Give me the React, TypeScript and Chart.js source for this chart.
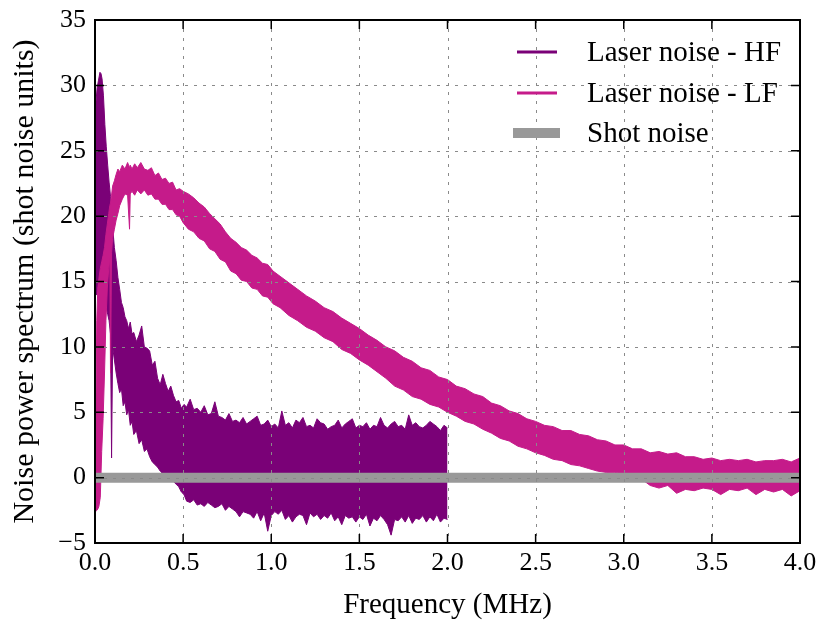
import React, { useEffect, useRef } from 'react';
import { Chart, registerables } from 'chart.js';

Chart.register(...registerables);

// ---- data ----
const hfFreq = [
  0.004, 0.012, 0.02, 0.028, 0.034, 0.04, 0.048, 0.056, 0.064, 0.072,
  0.08, 0.088, 0.094, 0.1, 0.11, 0.12, 0.13, 0.14, 0.15, 0.16,
  0.17, 0.18, 0.19, 0.2, 0.21, 0.22, 0.235, 0.25, 0.265, 0.28,
  0.295, 0.31, 0.325, 0.34, 0.355, 0.37, 0.385, 0.4, 0.415, 0.43,
  0.445, 0.46, 0.475, 0.49, 0.505, 0.52, 0.54, 0.56, 0.58, 0.6,
  0.62, 0.64, 0.66, 0.68, 0.7, 0.72, 0.74, 0.76, 0.78, 0.8,
  0.82, 0.84, 0.86, 0.88, 0.9, 0.92, 0.94, 0.96, 0.98, 1.0,
  1.02, 1.04, 1.06, 1.08, 1.1, 1.12, 1.14, 1.16, 1.18, 1.2,
  1.22, 1.24, 1.26, 1.28, 1.3, 1.32, 1.34, 1.36, 1.38, 1.4,
  1.42, 1.44, 1.46, 1.48, 1.5, 1.52, 1.54, 1.56, 1.58, 1.6,
  1.62, 1.64, 1.66, 1.68, 1.7, 1.72, 1.74, 1.76, 1.78, 1.8,
  1.82, 1.84, 1.86, 1.88, 1.9, 1.92, 1.94, 1.96, 1.98, 2.0,
];
const hfTop = [
  28.5, 29.8, 30.4, 31.0, 30.9, 30.5, 29.2, 27.0, 25.3, 23.9,
  22.6, 21.5, 20.6, 19.2, 17.6, 16.6, 15.3, 14.4, 13.4, 13.0,
  12.3, 12.0, 11.4, 11.9, 11.0, 11.1, 10.4, 10.9, 11.6, 10.0,
  9.9, 9.7, 8.6, 8.9, 7.6, 7.1, 7.9, 7.2, 6.6, 7.0,
  6.3, 5.8, 5.9, 5.3, 5.6, 5.4, 6.0, 5.2, 5.3, 5.0,
  5.5, 4.8, 4.9, 5.8, 4.7, 4.6, 4.4, 4.9, 4.3, 4.4,
  4.2, 4.6, 4.1, 4.3, 4.5, 4.7, 4.0, 4.1, 4.4, 3.9,
  4.1, 3.8, 5.1, 4.0, 4.2, 3.8, 4.4, 4.2, 4.6, 3.9,
  4.0, 3.8, 4.5, 4.2, 4.1, 3.7, 3.9, 4.0, 4.4, 3.8,
  4.1, 4.3, 4.5, 3.8, 4.0, 3.9, 4.2, 3.7, 4.0, 3.9,
  4.6, 4.0, 3.8, 4.1, 4.3, 3.9, 4.0, 3.7, 4.8, 4.0,
  4.2, 3.9, 3.8, 4.0, 4.3, 4.1, 3.9, 3.6, 4.0, 3.8,
];
const hfBottom = [
  14, 14, 15, 15, 15, 15, 14.5, 14, 13, 12.5,
  12, 11, 1.5, 10, 9, 8, 7.2, 6.5, 6.8, 5.5,
  5.8, 4.8, 5.2, 4.0, 4.3, 3.3, 3.6, 2.6, 2.9, 2.0,
  2.2, 1.6, 1.2, 1.0, 0.8, 0.5, 0.3, 0.2, 0.0, 0.0,
  -0.3, -0.5, -0.7, -1.1, -1.3, -1.8, -1.9, -1.7, -2.1, -2.0,
  -2.2, -1.9, -2.1, -2.3, -2.2, -2.0, -2.5, -2.2, -2.4, -2.6,
  -3.0, -2.6, -2.7, -2.8, -3.1, -2.6, -3.3, -2.7, -4.1, -2.9,
  -2.6, -2.8, -2.5, -3.2, -2.9, -3.4, -3.0, -2.8, -2.9, -3.6,
  -2.7, -3.0, -2.8, -3.2, -2.9, -3.1, -2.7, -3.3, -3.0, -3.6,
  -2.9, -3.1, -3.0, -3.4, -3.0, -3.2, -2.8, -3.7, -3.1, -3.3,
  -2.9, -3.2, -3.6, -4.4, -3.2, -3.3, -3.0, -3.4, -2.9, -3.5,
  -3.1, -3.2, -2.9, -3.4, -3.0, -3.3, -2.8, -3.4, -3.1, -3.2,
];

const lfFreq = [
  0.004, 0.01, 0.016, 0.022, 0.03, 0.038, 0.046, 0.054, 0.062, 0.07,
  0.078, 0.084, 0.088, 0.094, 0.1, 0.11, 0.12, 0.13, 0.14, 0.155,
  0.17, 0.185, 0.196, 0.2, 0.21, 0.225, 0.24, 0.26, 0.28, 0.3,
  0.32, 0.34, 0.36, 0.38, 0.4, 0.42, 0.44, 0.46, 0.48, 0.5,
  0.53, 0.56, 0.59, 0.62, 0.65, 0.68, 0.71, 0.74, 0.77, 0.8,
  0.83, 0.86, 0.89, 0.92, 0.95, 0.98, 1.01, 1.05, 1.1, 1.15,
  1.2, 1.25, 1.3, 1.35, 1.4, 1.45, 1.5, 1.55, 1.6, 1.65,
  1.7, 1.75, 1.8, 1.85, 1.9, 1.95, 2.0, 2.05, 2.1, 2.15,
  2.2, 2.25, 2.3, 2.35, 2.4, 2.45, 2.5, 2.55, 2.6, 2.65,
  2.7, 2.75, 2.8, 2.85, 2.9, 2.95, 3.0, 3.05, 3.1, 3.15,
  3.2, 3.25, 3.3, 3.35, 3.4, 3.45, 3.5, 3.55, 3.6, 3.65,
  3.7, 3.75, 3.8, 3.85, 3.9, 3.95, 4.0,
];
const lfTop = [
  4.0, 12.0, 14.5, 15.2, 16.0, 16.5, 17.0, 17.6, 18.6, 19.4,
  20.2, 20.8, 21.0, 21.6, 22.3, 22.7, 23.2, 23.6, 23.4, 23.9,
  23.6, 24.1, 23.7, 23.9, 23.6, 24.0, 23.7, 24.1, 23.6, 23.5,
  23.7, 23.1, 23.3, 22.8, 22.9, 22.5, 22.6, 22.0, 22.1, 21.9,
  21.7, 21.4, 21.0, 20.7, 20.2, 19.8, 19.4, 18.8, 18.3, 18.0,
  17.6, 17.4, 17.0, 16.8, 16.4, 16.3, 15.8, 15.4, 14.9, 14.4,
  13.9, 13.5, 13.0, 12.7, 12.2, 11.8, 11.4, 10.9, 10.5, 10.0,
  9.7, 9.2, 8.9, 8.4, 8.2, 7.7, 7.5, 7.0, 6.8, 6.4,
  6.2, 5.7, 5.5, 5.1, 4.9, 4.5, 4.3, 4.0, 3.9, 3.6,
  3.6, 3.3, 3.2, 2.9, 2.8, 2.5, 2.5, 2.2, 2.2, 1.9,
  2.0, 1.8, 1.9, 1.6, 1.6, 1.4, 1.5, 1.3, 1.4, 1.3,
  1.4, 1.2, 1.3, 1.3, 1.4, 1.2, 1.5,
];
const lfBottom = [
  -2.6, -2.5, -2.4, -2.2, -1.5, 2.0, 4.5, 8.0, 12.0, 14.5,
  16.0, 16.8, 8.0, 17.2, 18.3, 19.0, 19.7, 20.2, 20.8, 21.3,
  21.7, 21.6, 19.0, 21.7, 21.9, 21.6, 22.0, 21.7, 22.0, 21.6,
  21.7, 21.3, 21.3, 20.9, 20.9, 20.5, 20.5, 20.1, 20.0, 19.5,
  19.0, 18.8, 18.3, 18.1, 17.5, 17.3, 16.7, 16.5, 15.8, 15.6,
  15.1, 15.0, 14.5, 14.4, 13.9, 13.8, 13.3, 13.0, 12.4, 12.0,
  11.5, 11.2, 10.7, 10.4, 9.8, 9.5, 9.0, 8.6, 8.1, 7.6,
  7.0, 6.7, 6.2, 6.0, 5.6, 5.4, 5.0, 4.7, 4.3, 4.1,
  3.7, 3.4, 3.0, 2.8, 2.4, 2.2, 1.9, 1.7, 1.4, 1.3,
  1.0, 0.9, 0.7, 0.5, 0.4, 0.4, 0.3, 0.2, -0.1, -0.6,
  -0.8, -0.6, -1.2, -0.9, -1.0, -0.8, -0.9, -1.3, -0.9, -1.0,
  -0.8, -1.3, -0.9, -1.1, -0.9, -1.4, -1.0,
];

const shotFreq = [0, 4];
const shotLevel = [0, 0];

const xTickValues = [0, 0.5, 1, 1.5, 2, 2.5, 3, 3.5, 4];
const yTickValues = [-5, 0, 5, 10, 15, 20, 25, 30, 35];

const seriesLabels = ['Laser noise - HF', 'Laser noise - LF', 'Shot noise'];
const xTitle = 'Frequency (MHz)';
const yTitle = 'Noise power spectrum (shot noise units)';

const HF_COLOR = '#7a0177';
const LF_COLOR = '#c51b8a';
const SHOT_COLOR = '#999999';
const FONT = '"Liberation Serif", "DejaVu Serif", serif';

const pts = (xs: number[], ys: number[]) => xs.map((x, i) => ({ x, y: ys[i] }));

const framePlugin = {
  id: 'frameDecor',
  afterDatasetsDraw(chart: any) {
    const { ctx, chartArea: a, scales } = chart;
    const xs = scales.x;
    const ys = scales.y;
    ctx.save();
    // dotted grid (on top of data, like the reference)
    ctx.strokeStyle = '#8a8a8a';
    ctx.lineWidth = 1;
    ctx.setLineDash([3, 6]);
    xTickValues.forEach((v) => {
      const px = Math.round(xs.getPixelForValue(v)) + 0.5;
      if (px > a.left + 2 && px < a.right - 2) {
        ctx.beginPath();
        ctx.moveTo(px, a.top);
        ctx.lineTo(px, a.bottom);
        ctx.stroke();
      }
    });
    yTickValues.forEach((v) => {
      const py = Math.round(ys.getPixelForValue(v)) + 0.5;
      if (py > a.top + 2 && py < a.bottom - 2) {
        ctx.beginPath();
        ctx.moveTo(a.left, py);
        ctx.lineTo(a.right, py);
        ctx.stroke();
      }
    });
    ctx.setLineDash([]);
    // inward ticks on all four sides
    ctx.strokeStyle = '#000';
    ctx.lineWidth = 1.5;
    const tl = 9;
    xTickValues.forEach((v) => {
      const px = xs.getPixelForValue(v);
      ctx.beginPath();
      ctx.moveTo(px, a.bottom);
      ctx.lineTo(px, a.bottom - tl);
      ctx.moveTo(px, a.top);
      ctx.lineTo(px, a.top + tl);
      ctx.stroke();
    });
    yTickValues.forEach((v) => {
      const py = ys.getPixelForValue(v);
      ctx.beginPath();
      ctx.moveTo(a.left, py);
      ctx.lineTo(a.left + tl, py);
      ctx.moveTo(a.right, py);
      ctx.lineTo(a.right - tl, py);
      ctx.stroke();
    });
    // spines
    ctx.lineWidth = 2;
    ctx.strokeRect(a.left, a.top, a.right - a.left, a.bottom - a.top);
    // legend (upper right, no frame)
    const colors = [HF_COLOR, LF_COLOR, SHOT_COLOR];
    const widths = [3, 3, 10];
    const rowY = [a.top + 32, a.top + 73, a.top + 113];
    ctx.font = `29px ${FONT}`;
    ctx.textBaseline = 'middle';
    ctx.textAlign = 'left';
    seriesLabels.forEach((label, i) => {
      ctx.strokeStyle = colors[i];
      ctx.lineWidth = widths[i];
      ctx.beginPath();
      const x0 = i === 2 ? a.right - 287 : a.right - 283;
      const x1 = i === 2 ? a.right - 240 : a.right - 243;
      ctx.moveTo(x0, rowY[i]);
      ctx.lineTo(x1, rowY[i]);
      ctx.stroke();
      ctx.fillStyle = '#000';
      ctx.fillText(label, a.right - 213, rowY[i] + 1);
    });
    ctx.restore();
  },
};

export default function App() {
  const canvasRef = useRef<HTMLCanvasElement | null>(null);

  useEffect(() => {
    const canvas = canvasRef.current;
    if (!canvas) return;
    const chart = new Chart(canvas, {
      type: 'line',
      data: {
        datasets: [
          {
            label: seriesLabels[2],
            data: pts(shotFreq, shotLevel),
            borderColor: SHOT_COLOR,
            borderWidth: 10,
            pointRadius: 0,
            fill: false,
          },
          {
            label: seriesLabels[1],
            data: pts(lfFreq, lfTop),
            borderColor: LF_COLOR,
            backgroundColor: LF_COLOR,
            borderWidth: 1,
            pointRadius: 0,
            fill: '+1',
          },
          {
            label: seriesLabels[1] + ' (lower)',
            data: pts(lfFreq, lfBottom),
            borderColor: LF_COLOR,
            borderWidth: 1,
            pointRadius: 0,
            fill: false,
          },
          {
            label: seriesLabels[0],
            data: pts(hfFreq, hfTop),
            borderColor: HF_COLOR,
            backgroundColor: HF_COLOR,
            borderWidth: 1,
            pointRadius: 0,
            fill: '+1',
          },
          {
            label: seriesLabels[0] + ' (lower)',
            data: pts(hfFreq, hfBottom),
            borderColor: HF_COLOR,
            borderWidth: 1,
            pointRadius: 0,
            fill: false,
          },
        ],
      },
      options: {
        animation: false,
        responsive: false,
        devicePixelRatio: 1,
        layout: { padding: { left: 0, right: 17, top: 20, bottom: 0 } },
        plugins: {
          legend: { display: false },
          tooltip: { enabled: false },
        },
        elements: { line: { tension: 0 } },
        scales: {
          x: {
            type: 'linear',
            min: 0,
            max: 4,
            afterFit: (s: any) => {
              s.height = 81;
              s.paddingLeft = 0;
              s.paddingRight = 0;
            },
            afterBuildTicks: (s: any) => {
              s.ticks = xTickValues.map((v) => ({ value: v }));
            },
            grid: { display: false, drawTicks: false },
            border: { display: false },
            ticks: {
              color: '#000',
              padding: 5,
              maxRotation: 0,
              font: { family: FONT, size: 26 },
              callback: (v: any) => Number(v).toFixed(1),
            },
            title: {
              display: true,
              text: xTitle,
              color: '#000',
              font: { family: FONT, size: 29, lineHeight: 1.2 },
              padding: { top: 0, bottom: 1 },
            },
          },
          y: {
            type: 'linear',
            min: -5,
            max: 35,
            afterFit: (s: any) => {
              s.width = 95;
              s.paddingTop = 0;
              s.paddingBottom = 0;
            },
            afterBuildTicks: (s: any) => {
              s.ticks = yTickValues.map((v) => ({ value: v }));
            },
            grid: { display: false, drawTicks: false },
            border: { display: false },
            ticks: {
              color: '#000',
              padding: 9,
              font: { family: FONT, size: 26 },
              callback: (v: any) => (Number(v) < 0 ? '\u2212' + Math.abs(Number(v)) : String(v)),
            },
            title: {
              display: true,
              text: yTitle,
              color: '#000',
              font: { family: FONT, size: 30, lineHeight: 1.2 },
              padding: { top: 7, bottom: 0 },
            },
          },
        },
      },
      plugins: [framePlugin],
    } as any);
    return () => chart.destroy();
  }, []);

  return (
    <div style={{ position: 'fixed', left: 0, top: 0, width: 817, height: 624, background: '#fff' }}>
      <canvas ref={canvasRef} width={817} height={624} style={{ display: 'block' }} />
    </div>
  );
}
